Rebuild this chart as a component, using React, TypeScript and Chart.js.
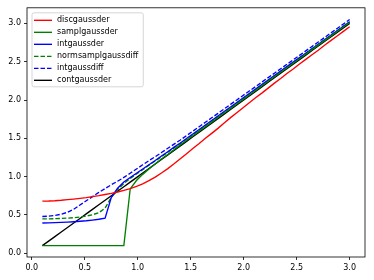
import { useEffect, useRef } from "react";
import { Chart, registerables } from "chart.js";

Chart.register(...registerables);

const xValues = [
  0.1, 0.159, 0.218, 0.278, 0.337, 0.396, 0.455, 0.514, 0.573, 0.633,
  0.692, 0.751, 0.81, 0.869, 0.929, 0.988, 1.047, 1.106, 1.165, 1.224,
  1.284, 1.343, 1.402, 1.461, 1.52, 1.58, 1.639, 1.698, 1.757, 1.816,
  1.876, 1.935, 1.994, 2.053, 2.112, 2.171, 2.231, 2.29, 2.349, 2.408,
  2.467, 2.527, 2.586, 2.645, 2.704, 2.763, 2.822, 2.882, 2.941, 3.0,
];

const discgaussder = [
  0.68, 0.682, 0.686, 0.692, 0.7, 0.708, 0.717, 0.727, 0.739, 0.752,
  0.767, 0.782, 0.8, 0.82, 0.845, 0.873, 0.907, 0.948, 0.995, 1.048,
  1.105, 1.168, 1.235, 1.3, 1.367, 1.432, 1.5, 1.565, 1.63, 1.7,
  1.77, 1.835, 1.9, 1.965, 2.03, 2.09, 2.155, 2.22, 2.28, 2.345,
  2.405, 2.47, 2.53, 2.59, 2.65, 2.715, 2.775, 2.835, 2.895, 2.955,
];

const samplgaussder = [
  0.1, 0.1, 0.1, 0.1, 0.1, 0.1, 0.1, 0.1, 0.1, 0.1,
  0.1, 0.1, 0.1, 0.1, 0.84, 0.95, 1.03, 1.1, 1.165, 1.23,
  1.29, 1.35, 1.415, 1.475, 1.534, 1.594, 1.653, 1.712, 1.771, 1.83,
  1.89, 1.949, 2.008, 2.066, 2.125, 2.184, 2.244, 2.303, 2.362, 2.421,
  2.48, 2.539, 2.598, 2.657, 2.716, 2.775, 2.834, 2.894, 2.953, 3.012,
];

const intgaussder = [
  0.395, 0.397, 0.4, 0.403, 0.407, 0.412, 0.418, 0.425, 0.434, 0.445,
  0.458, 0.73, 0.85, 0.93, 0.99, 1.045, 1.1, 1.155, 1.21, 1.27,
  1.325, 1.385, 1.44, 1.498, 1.557, 1.616, 1.675, 1.733, 1.792, 1.85,
  1.909, 1.968, 2.026, 2.085, 2.143, 2.201, 2.26, 2.319, 2.377, 2.435,
  2.494, 2.553, 2.611, 2.669, 2.728, 2.786, 2.844, 2.904, 2.962, 3.02,
];

const normsamplgaussdiff = [
  0.45, 0.45, 0.452, 0.455, 0.459, 0.465, 0.474, 0.486, 0.503, 0.53,
  0.59, 0.73, 0.83, 0.91, 0.975, 1.035, 1.09, 1.15, 1.205, 1.26,
  1.32, 1.375, 1.432, 1.491, 1.55, 1.609, 1.668, 1.727, 1.785, 1.844,
  1.903, 1.962, 2.021, 2.079, 2.138, 2.197, 2.256, 2.315, 2.373, 2.432,
  2.491, 2.55, 2.609, 2.668, 2.726, 2.785, 2.844, 2.903, 2.961, 3.02,
];

const intgaussdiff = [
  0.48, 0.485, 0.495, 0.51, 0.535, 0.575, 0.63, 0.685, 0.74, 0.795,
  0.845, 0.895, 0.94, 0.99, 1.045, 1.1, 1.155, 1.21, 1.26, 1.315,
  1.37, 1.425, 1.478, 1.535, 1.593, 1.652, 1.71, 1.768, 1.826, 1.884,
  1.943, 2.001, 2.059, 2.117, 2.175, 2.233, 2.292, 2.35, 2.408, 2.466,
  2.524, 2.583, 2.641, 2.699, 2.757, 2.815, 2.874, 2.933, 2.991, 3.05,
];

const contgaussder = [
  0.1, 0.159, 0.218, 0.278, 0.337, 0.396, 0.455, 0.514, 0.573, 0.633,
  0.692, 0.751, 0.81, 0.869, 0.929, 0.988, 1.047, 1.106, 1.165, 1.224,
  1.284, 1.343, 1.402, 1.461, 1.52, 1.58, 1.639, 1.698, 1.757, 1.816,
  1.876, 1.935, 1.994, 2.053, 2.112, 2.171, 2.231, 2.29, 2.349, 2.408,
  2.467, 2.527, 2.586, 2.645, 2.704, 2.763, 2.822, 2.882, 2.941, 3.0,
];

const xTicks = [0.0, 0.5, 1.0, 1.5, 2.0, 2.5, 3.0];
const yTicks = [0.0, 0.5, 1.0, 1.5, 2.0, 2.5, 3.0];

const FONT = '"DejaVu Sans", sans-serif';

const framePlugin = {
  id: "mplFrameLegend",
  afterDraw(chart: any) {
    const { ctx, chartArea } = chart;
    ctx.save();
    ctx.strokeStyle = "#000";
    ctx.lineWidth = 0.8;
    ctx.strokeRect(
      chartArea.left,
      chartArea.top,
      chartArea.right - chartArea.left,
      chartArea.bottom - chartArea.top
    );
    const ds = chart.data.datasets;
    ctx.font = `8px ${FONT}`;
    const maxW = Math.max(...ds.map((d: any) => ctx.measureText(d.label).width));
    const bx = chartArea.left + 5;
    const by = chartArea.top + 5;
    const rowH = 12;
    const w = 25 + maxW + 5;
    const h = ds.length * rowH + 2;
    const r = 2;
    ctx.beginPath();
    ctx.moveTo(bx + r, by);
    ctx.lineTo(bx + w - r, by);
    ctx.quadraticCurveTo(bx + w, by, bx + w, by + r);
    ctx.lineTo(bx + w, by + h - r);
    ctx.quadraticCurveTo(bx + w, by + h, bx + w - r, by + h);
    ctx.lineTo(bx + r, by + h);
    ctx.quadraticCurveTo(bx, by + h, bx, by + h - r);
    ctx.lineTo(bx, by + r);
    ctx.quadraticCurveTo(bx, by, bx + r, by);
    ctx.closePath();
    ctx.fillStyle = "rgba(255,255,255,0.8)";
    ctx.fill();
    ctx.strokeStyle = "#cccccc";
    ctx.lineWidth = 0.8;
    ctx.stroke();
    ds.forEach((d: any, i: number) => {
      const cy = by + 7.5 + i * rowH;
      ctx.strokeStyle = d.borderColor;
      ctx.lineWidth = d.borderWidth;
      ctx.setLineDash(d.borderDash || []);
      ctx.beginPath();
      ctx.moveTo(bx + 2, cy);
      ctx.lineTo(bx + 20, cy);
      ctx.stroke();
      ctx.setLineDash([]);
      ctx.fillStyle = "#000";
      ctx.textBaseline = "middle";
      ctx.textAlign = "left";
      ctx.fillText(d.label, bx + 25, cy);
    });
    ctx.restore();
  },
};

function series(label: string, ys: number[], color: string, dashed: boolean) {
  return {
    label,
    data: xValues.map((x, i) => ({ x, y: ys[i] })),
    borderColor: color,
    backgroundColor: color,
    borderWidth: 1.35,
    borderDash: dashed ? [4.5, 2] : [],
    pointRadius: 0,
    tension: 0,
    fill: false,
  };
}

export default function App() {
  const ref = useRef<HTMLCanvasElement | null>(null);
  useEffect(() => {
    if (!ref.current) return;
    const tickFont = { family: FONT, size: 8 };
    const grid = {
      drawOnChartArea: false,
      drawTicks: true,
      tickLength: 3,
      color: "#000",
      lineWidth: 0.8,
    };
    const chart = new Chart(ref.current, {
      type: "line",
      data: {
        datasets: [
          series("discgaussder", discgaussder, "#ff0000", false),
          series("samplgaussder", samplgaussder, "#008000", false),
          series("intgaussder", intgaussder, "#0000ff", false),
          series("normsamplgaussdiff", normsamplgaussdiff, "#008000", true),
          series("intgaussdiff", intgaussdiff, "#0000ff", true),
          series("contgaussder", contgaussder, "#000000", false),
        ] as any,
      },
      options: {
        animation: false,
        responsive: false,
        devicePixelRatio: 1,
        layout: { padding: { left: 0, top: 7, right: 9, bottom: 0 }, autoPadding: false } as any,
        plugins: { legend: { display: false }, tooltip: { enabled: false } },
        scales: {
          x: {
            type: "linear",
            min: -0.045,
            max: 3.145,
            afterBuildTicks: (s: any) => {
              s.ticks = xTicks.map((v) => ({ value: v }));
            },
            afterFit: (s: any) => {
              s.height = 23;
            },
            ticks: {
              font: tickFont,
              color: "#000",
              padding: 3,
              maxRotation: 0,
              autoSkip: false,
              callback: (v: any) => Number(v).toFixed(1),
            },
            grid,
            border: { display: false },
          },
          y: {
            type: "linear",
            min: -0.048,
            max: 3.203,
            afterBuildTicks: (s: any) => {
              s.ticks = yTicks.map((v) => ({ value: v }));
            },
            afterFit: (s: any) => {
              s.width = 27;
            },
            ticks: {
              font: tickFont,
              color: "#000",
              padding: 3,
              autoSkip: false,
              callback: (v: any) => Number(v).toFixed(1),
            },
            grid,
            border: { display: false },
          },
        },
      } as any,
      plugins: [framePlugin],
    });
    return () => chart.destroy();
  }, []);
  return (
    <div style={{ position: "fixed", left: 0, top: 0, width: 374, height: 280, background: "#fff" }}>
      <canvas ref={ref} width={374} height={280} />
    </div>
  );
}
